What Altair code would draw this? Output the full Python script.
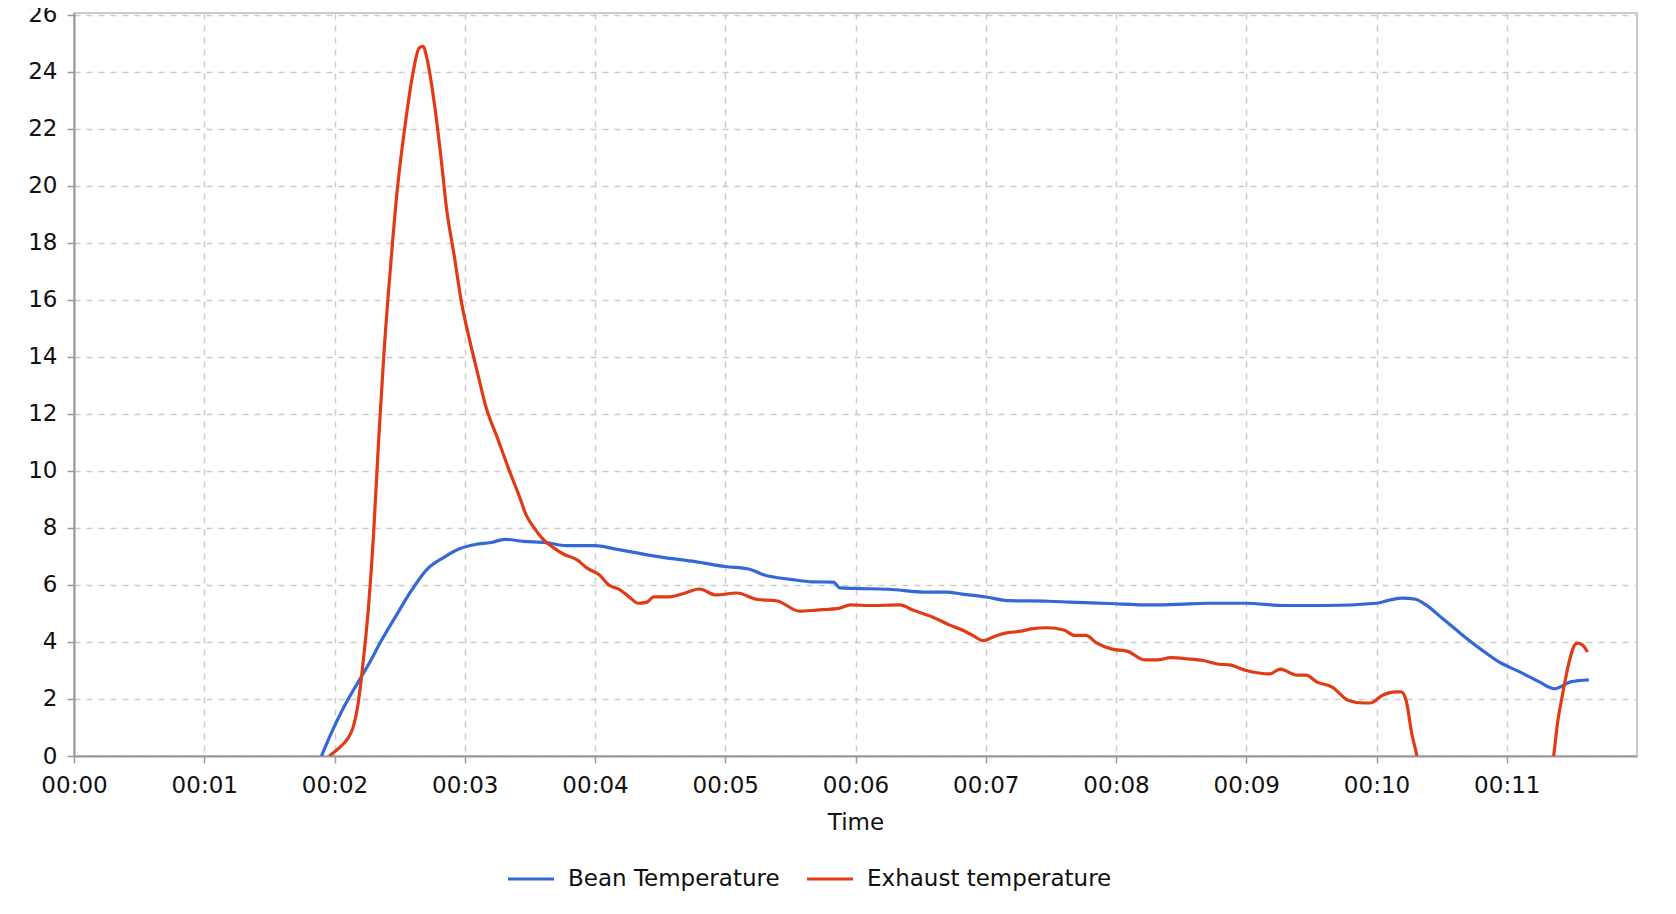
import altair as alt
import pandas as pd

# Time in minutes
bean_t = [1.9, 1.97, 2.07, 2.15, 2.26, 2.36, 2.47, 2.59, 2.71, 2.84,
          2.96, 3.08, 3.2, 3.31, 3.45, 3.62, 3.78, 4.0, 4.15, 4.35,
          4.52, 4.77, 5.0, 5.18, 5.3, 5.5, 5.67, 5.83, 5.88, 6.0,
          6.25, 6.55, 6.7, 6.82, 7.0, 7.18, 7.48, 7.64, 7.95, 8.26,
          8.46, 8.71, 9.0, 9.28, 9.61, 10.0, 10.1, 10.2, 10.3, 10.38,
          10.5, 10.64, 10.8, 10.94, 11.1, 11.25, 11.37, 11.49, 11.63]
bean_v = [0, 0.75, 1.7, 2.35, 3.2, 4.05, 4.9, 5.8, 6.55, 6.97,
          7.27, 7.42, 7.49, 7.6, 7.53, 7.49, 7.38, 7.38, 7.27, 7.1,
          6.97, 6.82, 6.65, 6.56, 6.35, 6.2, 6.11, 6.1, 5.9, 5.88,
          5.85, 5.75, 5.75, 5.68, 5.58, 5.45, 5.43, 5.4, 5.35, 5.3,
          5.32, 5.36, 5.36, 5.28, 5.28, 5.36, 5.47, 5.54, 5.5, 5.3,
          4.85, 4.32, 3.75, 3.3, 2.95, 2.6, 2.36, 2.6, 2.67]

exhaust_t = [1.96, 2.04, 2.1, 2.14, 2.18, 2.22, 2.26, 2.3, 2.34, 2.38,
             2.43, 2.48, 2.55, 2.6, 2.65, 2.68, 2.71, 2.77, 2.82, 2.86,
             2.92, 2.97, 3.04, 3.1, 3.16, 3.25, 3.34, 3.42, 3.47, 3.53,
             3.6, 3.68, 3.76, 3.86, 3.94, 4.03, 4.11, 4.19, 4.27, 4.33,
             4.4, 4.45, 4.56, 4.68, 4.8, 4.93, 5.09, 5.24, 5.4, 5.57,
             5.7, 5.88, 5.96, 6.12, 6.34, 6.44, 6.59, 6.72, 6.82, 6.9,
             6.98, 7.07, 7.15, 7.27, 7.35, 7.47, 7.6, 7.68, 7.77, 7.85,
             7.97, 8.09, 8.22, 8.32, 8.42, 8.55, 8.67, 8.79, 8.87, 9.0,
             9.18, 9.26, 9.39, 9.46, 9.54, 9.66, 9.78, 9.9, 9.95, 10.05,
             10.15, 10.19, 10.23, 10.27, 10.31, 10.36, 10.5, 11.0, 11.3, 11.36,
             11.39, 11.43, 11.47, 11.51, 11.54, 11.58, 11.62]
exhaust_v = [0, 0.3, 0.6, 0.97, 1.8, 3.3, 5.17, 7.8, 11.17, 14.16,
             17.16, 19.78, 22.4, 23.9, 24.84, 24.9, 24.47, 22.78, 20.9, 19.22,
             17.53, 16.04, 14.54, 13.41, 12.29, 11.17, 10.04, 9.1, 8.47, 8.02,
             7.61, 7.31, 7.08, 6.89, 6.59, 6.37, 5.99, 5.84, 5.55, 5.36,
             5.4, 5.58, 5.58, 5.7, 5.86, 5.65, 5.72, 5.5, 5.44, 5.08,
             5.12, 5.19, 5.3, 5.28, 5.3, 5.12, 4.88, 4.6, 4.42, 4.23,
             4.05, 4.2, 4.31, 4.38, 4.46, 4.5, 4.42, 4.23, 4.23, 3.97,
             3.75, 3.67, 3.37, 3.37, 3.45, 3.41, 3.35, 3.22, 3.2, 3.0,
             2.88, 3.05, 2.84, 2.84, 2.6, 2.42, 1.96, 1.86, 1.86, 2.14,
             2.25, 2.25, 1.9, 0.8, 0.0, -1.5, -4, -4, -1.5, 0,
             1.16, 2.2, 3.12, 3.79, 3.96, 3.9, 3.65]

series_names = ["Bean Temperature", "Exhaust temperature"]
series_colors = ["#3468D6", "#E03B14"]
x_ticks = list(range(0, 12))
y_ticks = list(range(0, 27, 2))

rows = []
for t, v in zip(bean_t, bean_v):
    rows.append({"t": t, "v": v, "s": series_names[0]})
for t, v in zip(exhaust_t, exhaust_v):
    rows.append({"t": t, "v": v, "s": series_names[1]})
df = pd.DataFrame(rows)

FONT = "DejaVu Sans"

chart = alt.Chart(df).mark_line(clip=True, strokeWidth=3.2, interpolate="monotone").encode(
    x=alt.X("t:Q", title="Time",
            scale=alt.Scale(domain=[0, 12], nice=False, zero=False),
            axis=alt.Axis(values=x_ticks,
                          labelExpr="'00:' + (datum.value < 10 ? '0' : '') + datum.value",
                          grid=True, gridDash=[6, 6], gridColor="#cccccc", gridWidth=1.5,
                          domainColor="#999999", domainWidth=2,
                          tickColor="#999999", tickSize=7, tickWidth=1.5,
                          labelFontSize=23, labelFont=FONT, labelColor="#111111",
                          labelPadding=11, labelFlush=False,
                          titleFontSize=23, titleFont=FONT, titleFontWeight="normal",
                          titleColor="#111111", titlePadding=14)),
    y=alt.Y("v:Q", title=None,
            scale=alt.Scale(domain=[0, 26.07], nice=False),
            axis=alt.Axis(values=y_ticks,
                          grid=True, gridDash=[6, 6], gridColor="#cccccc", gridWidth=1.5,
                          domainColor="#999999", domainWidth=2,
                          tickColor="#999999", tickSize=7, tickWidth=1.5,
                          labelFontSize=23, labelFont=FONT, labelColor="#111111",
                          labelPadding=10, labelFlush=False)),
    color=alt.Color("s:N", title=None,
                    scale=alt.Scale(domain=series_names, range=series_colors),
                    legend=alt.Legend(orient="none", legendX=432, legendY=841,
                                      direction="horizontal", symbolType="stroke",
                                      symbolSize=2116, symbolStrokeWidth=3.2,
                                      labelFontSize=23, labelFont=FONT, labelColor="#111111",
                                      labelLimit=0, labelOffset=12, columnPadding=20)),
).properties(
    width=1563, height=743,
    padding={"left": 66, "top": 5, "right": 31, "bottom": 150},
    autosize=alt.AutoSizeParams(type="none"),
).configure_view(stroke="#bbbbbb", strokeWidth=1.5)

chart.save("out.html", embed_options={"renderer": "svg", "actions": False})
